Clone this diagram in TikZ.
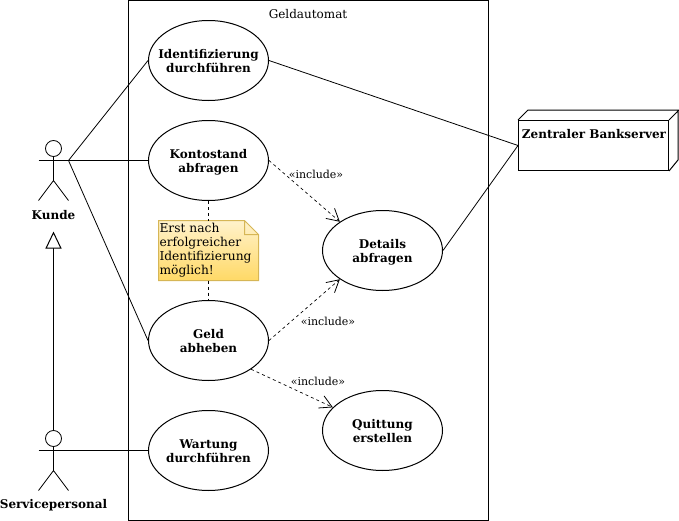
\documentclass[tikz,border=0pt]{standalone}
\usepackage{fontspec}
\setmainfont{DejaVu Serif}
\usetikzlibrary{arrows.meta,shapes.geometric,positioning}

\definecolor{notetopcol}{HTML}{FFF2CC}
\definecolor{notebotcol}{HTML}{FFD966}
\definecolor{noteline}{HTML}{D6B656}

\tikzset{
  usecase/.style={draw,ellipse,minimum width=90pt,minimum height=60pt,inner sep=-8pt,
    align=center,font=\fontsize{9}{10.5}\selectfont\bfseries,
    execute at begin node=\rule[-2pt]{0pt}{22pt}},
  actorlabel/.style={font=\fontsize{9}{10.8}\selectfont\bfseries,inner sep=0pt},
  actorhead/.style={draw,circle,minimum size=12pt,inner sep=0pt,line width=.6pt},
  includelabel/.style={font=\fontsize{8.25}{9}\selectfont,inner sep=0pt},
  thinline/.style={line width=.6pt},
  includeedge/.style={line width=.5pt,dash pattern=on 2.25pt off 2.25pt,
    -{Straight Barb[length=9pt,width=10pt,line width=.6pt]}},
  devoted/.style={dash pattern=on 2.25pt off 2.25pt}
}

\begin{document}
\begin{tikzpicture}[x=0.75pt,y=-0.75pt,line width=0.75pt]
  \useasboundingbox (0,0) rectangle (679,521);
  \node[draw,minimum width=270pt,minimum height=390pt,inner sep=0pt] (system) at (308.5,260) {};
  \node[font=\fontsize{9}{10.8}\selectfont,inner sep=0pt] (systemlabel) at (308,14.5) {Geldautomat};

  % use cases
  \node[usecase] (ident) at (208.5,60.5) {Identifizierung\\durchf\"uhren};
  \node[usecase] (konto) at (208.5,160.5) {Kontostand\\abfragen};
  \node[usecase] (geld) at (208.5,340.5) {Geld\\abheben};
  \node[usecase] (wartung) at (208.5,450.5) {Wartung\\durchf\"uhren};
  \node[usecase] (details) at (382.5,250.5) {Details\\abfragen};
  \node[usecase] (quittung) at (382.5,430.5) {Quittung\\erstellen};

  % note
  \coordinate (notetop) at (208.5,220.5);
  \coordinate (notebottom) at (208.5,280.5);
  \shade[top color=notetopcol,bottom color=notebotcol]
    (158.5,220.5) -- (244.5,220.5) -- (258.5,234.5) -- (258.5,280.5) -- (158.5,280.5) -- cycle;
  \draw[noteline]
    (158.5,220.5) -- (244.5,220.5) -- (258.5,234.5) -- (258.5,280.5) -- (158.5,280.5) -- cycle
    (244.5,220.5) -- (244.5,234.5) -- (258.5,234.5);
  \node[anchor=north west,inner sep=0pt,align=left,font=\fontsize{9.2}{10.6}\selectfont] (note) at (159,222.5)
    {Erst nach\\erfolgreicher\\Identifizierung\\m\"oglich!};
  \path (konto.south) edge[devoted] (notetop);
  \path (notebottom) edge[devoted] (geld.north);

  % server
  \node[draw,minimum width=112.5pt,minimum height=37.5pt,inner sep=0pt] (server) at (593.5,145.5) {};
  \node[font=\fontsize{9}{10.8}\selectfont\bfseries,inner sep=0pt] (serverlabel) at (594,134) {Zentraler Bankserver};
  \draw (server.north west) -- ++(10,-10) -- ++(150,0) -- ++(0,50) -- (server.south east)
    (server.north east) -- ++(10,-10);

  % actors
  \node[actorhead] (kundehead) at (53.5,148.5) {};
  \coordinate (kundehip) at (53.5,180.5);
  \coordinate (kunde) at (68.5,160.5);
  \draw (kundehead.south) -- (kundehip) (38.5,160.5) -- (kunde);
  \draw[thinline] (38.5,200.5) -- (kundehip) -- (68.5,200.5);
  \node[actorlabel] (kundelabel) at (53.5,215.5) {Kunde};

  \node[actorhead] (servicehead) at (53.5,438.5) {};
  \coordinate (servicehip) at (53.5,470.5);
  \coordinate (service) at (68.5,450.5);
  \draw (servicehead.south) -- (servicehip) (38.5,450.5) -- (service);
  \draw[thinline] (38.5,490.5) -- (servicehip) -- (68.5,490.5);
  \node[actorlabel] (servicelabel) at (53.5,505) {Servicepersonal};

  % connectors
  \coordinate (inherit) at (53.5,231.5);
  \path (servicehead.north) edge[-{Triangle[open,length=12.75pt,width=12pt,fill=white]}] (inherit);
  \path (kunde) edge[thinline] (ident.west);
  \path (kunde) edge (konto.west);
  \path (kunde) edge[thinline] (geld.west);
  \path (service) edge (wartung.west);
  \path (ident.east) edge[thinline] (server.west);
  \path (details.east) edge[thinline] (server.west);

  \path (konto.east) edge[includeedge] (details.146);
  \path (geld.east) edge[includeedge] (details.214);
  \path (geld.-34) edge[includeedge] (quittung.155);
  \node[includelabel] (includeone) at (316,174.5) {«include»};
  \node[includelabel] (includetwo) at (328,321.5) {«include»};
  \node[includelabel] (includethree) at (318,381.5) {«include»};
\end{tikzpicture}
\end{document}
